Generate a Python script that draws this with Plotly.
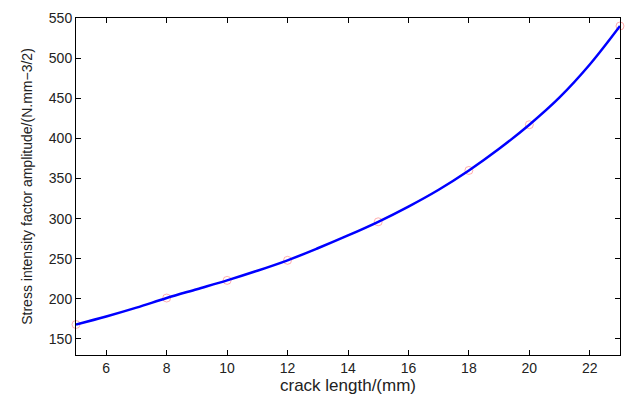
import plotly.graph_objects as go

# measured points (pink circles)
crack_mm = [5, 8, 10, 12, 15, 18, 20, 23]
sif_measured = [168, 201, 223, 248, 296, 360, 417, 540]

# fitted curve
fit_x = [5, 6, 7, 8, 9, 10, 11, 12, 13, 14, 15, 16, 17, 18, 19, 20, 21, 22, 23]
fit_y = [168, 178, 189, 201, 212, 223, 235, 248, 263, 279, 296, 315, 336, 360, 387, 417, 451, 492, 540]

x_ticks = [6, 8, 10, 12, 14, 16, 18, 20, 22]
y_ticks = [150, 200, 250, 300, 350, 400, 450, 500, 550]

FONT = "Liberation Sans, Arial"

fig = go.Figure()
fig.add_trace(go.Scatter(
    x=crack_mm, y=sif_measured, mode="markers",
    marker=dict(symbol="circle-open", size=8, color="rgba(255,110,110,0.55)", line=dict(width=1)),
    showlegend=False, cliponaxis=False,
))
fig.add_trace(go.Scatter(
    x=fit_x, y=fit_y, mode="lines", line=dict(color="#0000ff", width=2.5, shape="spline"),
    showlegend=False,
))

axis_common = dict(
    showgrid=False, zeroline=False, showline=True, linecolor="black", linewidth=1,
    mirror="ticks", ticks="inside", ticklen=5, tickcolor="black",
    tickfont=dict(family=FONT, size=14, color="#222"),
)
fig.update_xaxes(range=[5, 23], tickvals=x_ticks,
                 title=dict(text="crack length/(mm)", font=dict(family=FONT, size=17, color="#222"), standoff=0),
                 **axis_common)
fig.update_yaxes(range=[130, 550], tickvals=y_ticks,
                 title=dict(text="Stress intensity factor amplitude/(N.mm−3/2)", font=dict(family=FONT, size=14, color="#222"), standoff=12),
                 **axis_common)
fig.update_layout(
    width=631, height=398, margin=dict(l=76, r=10, t=15, b=32),
    plot_bgcolor="white", paper_bgcolor="white",
)
fig.write_html("out.html")
